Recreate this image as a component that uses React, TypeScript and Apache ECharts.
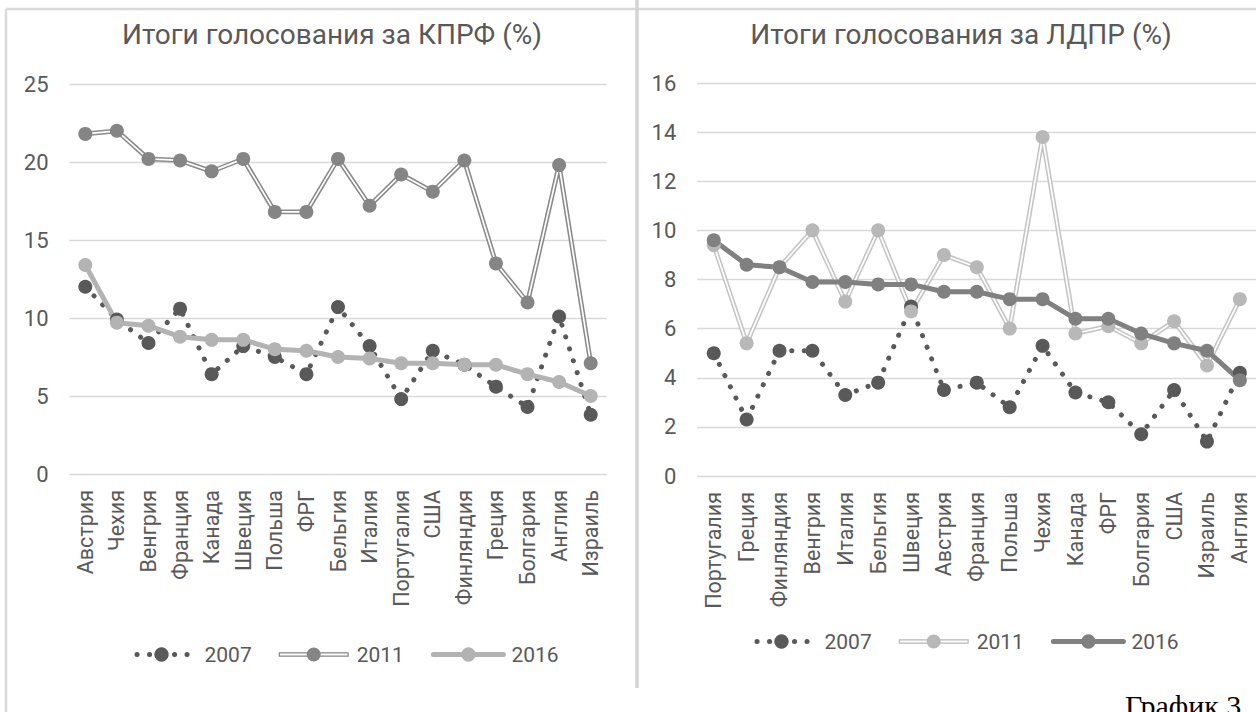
import React, { useEffect, useRef } from "react";
import * as echarts from "echarts";

// ---------- data ----------
const kprfCountries = ["Австрия", "Чехия", "Венгрия", "Франция", "Канада", "Швеция", "Польша", "ФРГ", "Бельгия", "Италия", "Португалия", "США", "Финляндия", "Греция", "Болгария", "Англия", "Израиль"];
const kprf2007 = [12.0, 9.9, 8.4, 10.6, 6.4, 8.2, 7.5, 6.4, 10.7, 8.2, 4.8, 7.9, 7.0, 5.6, 4.3, 10.1, 3.8];
const kprf2011 = [21.8, 22.0, 20.2, 20.1, 19.4, 20.2, 16.8, 16.8, 20.2, 17.2, 19.2, 18.1, 20.1, 13.5, 11.0, 19.8, 7.1];
const kprf2016 = [13.4, 9.7, 9.5, 8.8, 8.6, 8.6, 8.0, 7.9, 7.5, 7.4, 7.1, 7.1, 7.0, 7.0, 6.4, 5.9, 5.0];

const ldprCountries = ["Португалия", "Греция", "Финляндия", "Венгрия", "Италия", "Бельгия", "Швеция", "Австрия", "Франция", "Польша", "Чехия", "Канада", "ФРГ", "Болгария", "США", "Израиль", "Англия"];
const ldpr2007 = [5.0, 2.3, 5.1, 5.1, 3.3, 3.8, 6.9, 3.5, 3.8, 2.8, 5.3, 3.4, 3.0, 1.7, 3.5, 1.4, 4.2];
const ldpr2011 = [9.4, 5.4, 8.5, 10.0, 7.1, 10.0, 6.7, 9.0, 8.5, 6.0, 13.8, 5.8, 6.1, 5.4, 6.3, 4.5, 7.2];
const ldpr2016 = [9.6, 8.6, 8.5, 7.9, 7.9, 7.8, 7.8, 7.5, 7.5, 7.2, 7.2, 6.4, 6.4, 5.8, 5.4, 5.1, 3.9];

const years = ["2007", "2011", "2016"];
const kprfTitle = "Итоги голосования за КПРФ (%)";
const ldprTitle = "Итоги голосования за ЛДПР (%)";
const caption = "График 3";

// ---------- style ----------
const FONT = "Roboto, 'Noto Sans', sans-serif";
const TEXT = "#595959";
const GRID_LINE = "#d9d9d9";
const DARK = "#595959";
const DOT_DASH = [0.1, 12.4];
const DOUBLE_ICON =
  "path://M0 4.75 L70 4.75 L70 9.25 L0 9.25 Z M1.2 6.1 L1.2 7.9 L68.8 7.9 L68.8 6.1 Z M28 7 A7 7 0 1 1 42 7 A7 7 0 1 1 28 7 Z";

type Cfg = {
  cats: string[];
  s07: number[];
  s11: number[];
  s16: number[];
  title: string;
  titleX: number;
  grid: { left: number; top: number; width: number; height: number };
  yMax: number;
  yInterval: number;
  c11Line: string;
  c11Marker: string;
  c16: string;
  legendLeft: number;
  legendTop: number;
};

function buildOption(c: Cfg): any {
  return {
    animation: false,
    backgroundColor: "transparent",
    title: {
      text: c.title,
      left: c.titleX,
      top: 20,
      padding: 0,
      textAlign: "center",
      textStyle: { fontFamily: FONT, fontSize: 28, fontWeight: "normal", color: TEXT },
    },
    grid: { ...c.grid, containLabel: false, outerBoundsMode: "none" },
    xAxis: {
      type: "category",
      data: c.cats,
      boundaryGap: true,
      axisLine: { show: false },
      axisTick: { show: false },
      axisLabel: { rotate: 90, interval: 0, margin: 16, color: TEXT, fontFamily: FONT, fontSize: 21.5 },
      splitLine: { show: false },
    },
    yAxis: {
      type: "value",
      min: 0,
      max: c.yMax,
      interval: c.yInterval,
      axisLine: { show: false },
      axisTick: { show: false },
      axisLabel: { margin: 21, color: TEXT, fontFamily: FONT, fontSize: 22 },
      splitLine: { lineStyle: { color: GRID_LINE, width: 1.3 } },
    },
    legend: {
      left: c.legendLeft,
      top: c.legendTop,
      padding: 0,
      itemWidth: 70,
      itemHeight: 18,
      itemGap: 27,
      selectedMode: false,
      textStyle: { fontFamily: FONT, fontSize: 21, color: TEXT, padding: [0, 0, 0, 3] },
      data: [
        {
          name: years[0],
          itemStyle: { color: DARK, borderWidth: 0 },
          lineStyle: { color: DARK, width: 5, type: DOT_DASH, cap: "round", dashOffset: 1.5 },
        },
        { name: years[1], icon: DOUBLE_ICON, itemStyle: { color: c.c11Marker, borderWidth: 0 } },
        {
          name: years[2],
          itemStyle: { color: c.c16, borderWidth: 0 },
          lineStyle: { color: c.c16, width: 5, type: "solid", cap: "round" },
        },
      ],
    },
    series: [
      {
        name: years[0],
        type: "line",
        data: c.s07,
        symbol: "circle",
        symbolSize: 14,
        itemStyle: { color: DARK, borderWidth: 0 },
        lineStyle: { color: DARK, width: 5, type: DOT_DASH, cap: "round" },
        silent: true,
      },
      {
        name: years[1],
        type: "line",
        data: c.s11,
        symbol: "none",
        itemStyle: { color: c.c11Marker, borderWidth: 0 },
        lineStyle: { color: c.c11Line, width: 4.8 },
        silent: true,
      },
      {
        name: years[1],
        type: "line",
        data: c.s11,
        symbol: "none",
        itemStyle: { color: c.c11Marker, borderWidth: 0 },
        lineStyle: { color: "#ffffff", width: 1.7 },
        silent: true,
      },
      {
        name: years[1],
        type: "line",
        data: c.s11,
        symbol: "circle",
        symbolSize: 14,
        itemStyle: { color: c.c11Marker, borderWidth: 0 },
        lineStyle: { width: 0, opacity: 0 },
        silent: true,
      },
      {
        name: years[2],
        type: "line",
        data: c.s16,
        symbol: "circle",
        symbolSize: 14,
        itemStyle: { color: c.c16, borderWidth: 0 },
        lineStyle: { color: c.c16, width: 5 },
        silent: true,
      },
    ],
  };
}

const leftCfg: Cfg = {
  cats: kprfCountries,
  s07: kprf2007,
  s11: kprf2011,
  s16: kprf2016,
  title: kprfTitle,
  titleX: 332,
  grid: { left: 69.5, top: 84, width: 537, height: 390 },
  yMax: 25,
  yInterval: 5,
  c11Line: "#8a8a8a",
  c11Marker: "#858585",
  c16: "#b3b3b3",
  legendLeft: 124,
  legendTop: 644,
};

const rightCfg: Cfg = {
  cats: ldprCountries,
  s07: ldpr2007,
  s11: ldpr2011,
  s16: ldpr2016,
  title: ldprTitle,
  titleX: 961,
  grid: { left: 697.3, top: 83, width: 559, height: 393 },
  yMax: 16,
  yInterval: 2,
  c11Line: "#c4c4c4",
  c11Marker: "#b8b8b8",
  c16: "#808080",
  legendLeft: 744,
  legendTop: 631,
};

export default function App() {
  const leftRef = useRef<HTMLDivElement>(null);
  const rightRef = useRef<HTMLDivElement>(null);

  useEffect(() => {
    const a = echarts.init(leftRef.current!, null, { renderer: "svg" });
    const leftOpt = buildOption(leftCfg);
    leftOpt.graphic = [
      { type: "line", silent: true, shape: { x1: 6, y1: 9, x2: 1256, y2: 9 }, style: { stroke: "#d9d9d9", lineWidth: 2.5 } },
      { type: "line", silent: true, shape: { x1: 6, y1: 9, x2: 6, y2: 712 }, style: { stroke: "#d9d9d9", lineWidth: 2.5 } },
      { type: "line", silent: true, shape: { x1: 637, y1: 0, x2: 637, y2: 688 }, style: { stroke: "#d4d4d4", lineWidth: 3.5 } },
      {
        type: "text",
        silent: true,
        x: 1125,
        y: 690,
        style: { text: caption, fontFamily: "'Liberation Serif', 'Times New Roman', serif", fontSize: 30, fill: "#000000", verticalAlign: "top" },
      },
    ];
    a.setOption(leftOpt);
    const b = echarts.init(rightRef.current!, null, { renderer: "svg" });
    b.setOption(buildOption(rightCfg));
    return () => {
      a.dispose();
      b.dispose();
    };
  }, []);

  return (
    <div style={{ position: "fixed", left: 0, top: 0, width: 1256, height: 712, background: "#ffffff", overflow: "hidden" }}>
      <div ref={leftRef} style={{ position: "absolute", left: 0, top: 0, width: 1256, height: 712 }} />
      <div ref={rightRef} style={{ position: "absolute", left: 0, top: 0, width: 1256, height: 712 }} />
    </div>
  );
}
